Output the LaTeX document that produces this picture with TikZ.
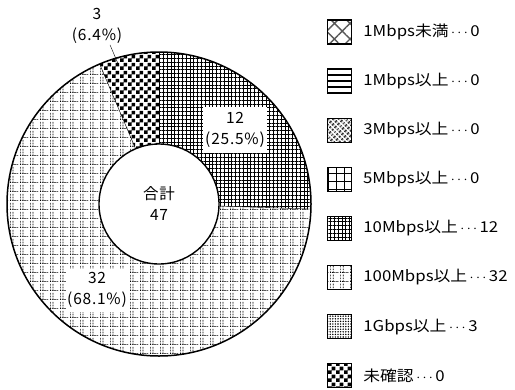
\documentclass[tikz,border=0pt]{standalone}
\usepackage{fontspec}
\setmainfont{Noto Sans CJK JP}
\newfontfamily\legendfont[FakeStretch=1.12]{Noto Sans CJK JP}
\newfontfamily\chartfont[LetterSpace=5]{Noto Sans CJK JP}
\usetikzlibrary{patterns,patterns.meta,calc}
\newcommand{\mdots}{\,$\cdots$\,}

\pgfdeclarepatternformonly{checks}{\pgfqpoint{0bp}{0bp}}{\pgfqpoint{8bp}{8bp}}{\pgfqpoint{8bp}{8bp}}{%
	\pgfpathrectangle{\pgfqpoint{0bp}{0bp}}{\pgfqpoint{4bp}{4bp}}%
	\pgfpathrectangle{\pgfqpoint{4bp}{4bp}}{\pgfqpoint{4bp}{4bp}}%
	\pgfusepath{fill}}
\pgfdeclarepatternformonly{dotgrid}{\pgfqpoint{0bp}{0bp}}{\pgfqpoint{10bp}{9bp}}{\pgfqpoint{10bp}{9bp}}{%
	\foreach \k in {0,3,6} {\pgfpathrectangle{\pgfpoint{0bp}{\k bp}}{\pgfqpoint{0.8bp}{1.8bp}}\pgfusepath{fill}}%
	\foreach \k in {0,3,6} {\pgfpathrectangle{\pgfpoint{3bp}{\k bp}}{\pgfqpoint{0.8bp}{1.8bp}}\pgfusepath{fill}}%
	\foreach \k in {0,2,4,6,8} {\pgfpathrectangle{\pgfpoint{\k bp}{0bp}}{\pgfqpoint{1bp}{0.9bp}}\pgfusepath{fill}}}

\tikzset{
	under1/.style={pattern={Hatch[angle=45,distance=11bp,line width=1.4bp]},pattern color=black!65},
	over1/.style={path picture={\foreach \t in {-6,0,6} \draw[line width=1.4bp] ([yshift=\t bp]path picture bounding box.west) -- ([yshift=\t bp]path picture bounding box.east);}},
	over3/.style={pattern={Hatch[angle=45,distance=3.6bp,line width=1.2bp]},pattern color=black!80},
	over5/.style={pattern={Hatch[angle=0,distance=8bp,line width=0.9bp]}},
	over10/.style={pattern={Hatch[angle=0,distance=3.8bp,line width=0.7bp]}},
	over100/.style={pattern=dotgrid},
	over1g/.style={pattern={Dots[distance=2.6bp,radius=0.8bp]}},
	unknown/.style={pattern=checks},
	lblbox/.style={fill=white,align=center,inner sep=0pt},
	keybox/.style={draw,line width=1.3bp,minimum size=24bp,inner sep=0pt},
}

\begin{document}
\begin{tikzpicture}[x=1bp,y=1bp,font=\chartfont\fontsize{15.5bp}{21bp}\selectfont]
		\fill[white] (0,0) rectangle (515,389);
		\useasboundingbox (0,0) rectangle (515,389);
		\coordinate (c) at (159,185);
		\foreach \a/\b/\pat in {90/-1.915/over10,-1.915/-247.02/over100,112.98/90/unknown} \fill[\pat] (c) -- ($(c)+(\a:152)$) arc[start angle=\a,end angle=\b,radius=152] -- cycle;
		\foreach \a in {90,-1.915,112.98} \draw ($(c)+(\a:60)$) -- ($(c)+(\a:152)$);
		\draw[line width=1.5bp] (c) circle[radius=152];
		\node[circle,draw,fill=white,line width=1.4bp,minimum size=120bp,inner sep=0pt,align=center] (total) at (c) {合計\\47};
		\node[lblbox,minimum width=64bp,minimum height=46bp] (lbl12) at (235,259) {12\\(25.5\%)};
		\node[lblbox,minimum width=63bp,minimum height=43bp] (lbl32) at (97,99) {32\\(68.1\%)};
		\node[align=center,inner sep=1bp] (lbl3) at (97,363) {3\\(6.4\%)};
		\coordinate (tip3) at (119,323);
		\draw ([xshift=13bp]lbl3.south) -- (tip3);
		\foreach \pat/\txt [count=\i] in {under1/1Mbps未満\mdots 0,over1/1Mbps以上\mdots 0,over3/3Mbps以上\mdots 0,over5/5Mbps以上\mdots 0,over10/10Mbps以上\mdots 12,over100/100Mbps以上\mdots 32,over1g/1Gbps以上\mdots 3,unknown/未確認\mdots 0} {
			\node[keybox,\pat] (key\i) at (339.5,{357-(\i-1)*49.1}) {};
			\node[anchor=west,inner sep=0pt,font=\legendfont\fontsize{15bp}{18bp}\selectfont] (name\i) at ([xshift=11bp]key\i.east) {\txt};
		}
	\end{tikzpicture}
\end{document}
